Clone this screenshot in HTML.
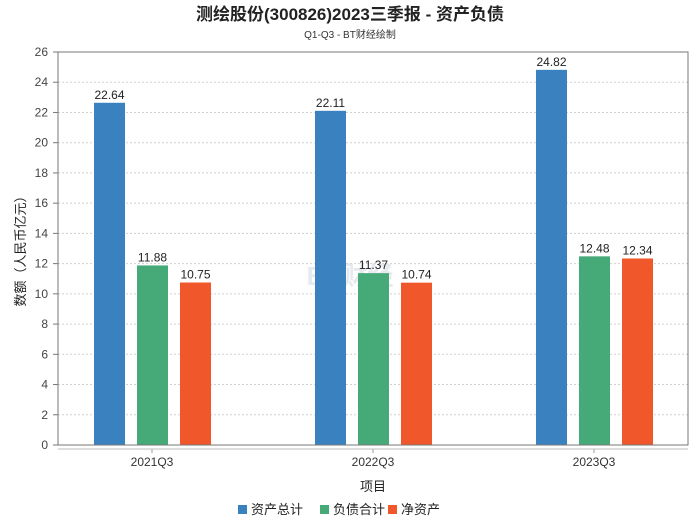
<!DOCTYPE html>
<html><head><meta charset="utf-8"><style>
body{margin:0;background:#fff;font-family:"Liberation Sans","Noto Sans CJK SC",sans-serif;}
svg text{font-family:"Liberation Sans","Noto Sans CJK SC",sans-serif;}
</style></head><body>
<svg id="chart" width="700" height="524" xmlns="http://www.w3.org/2000/svg">
<text x="350" y="20" text-anchor="middle" font-size="17" font-weight="bold" fill="#222">测绘股份(300826)2023三季报 - 资产负债</text>
<text x="350" y="38" text-anchor="middle" font-size="10" fill="#333">Q1-Q3 - BT财经绘制</text>
<text x="350" y="285" text-anchor="middle" font-size="26" font-weight="bold" fill="#e6e9ee">BT财经</text>
<g id="grid"></g><g id="bars"></g><g id="labels"></g>
<rect x="58" y="52" width="630" height="393" fill="none" stroke="#777"/>
<line x1="58" y1="449" x2="688" y2="449" stroke="#bbb"/>
<text transform="translate(25,248) rotate(-90)" text-anchor="middle" font-size="13" fill="#222">数额（人民币亿元）</text>
<text x="373" y="491" text-anchor="middle" font-size="13" fill="#222">项目</text>
<g id="legend"></g>
</svg>
<script>
const categories=["2021Q3","2022Q3","2023Q3"];
const seriesNames=["资产总计","负债合计","净资产"];
const assets=[22.64,22.11,24.82];
const liabilities=[11.88,11.37,12.48];
const equity=[10.75,10.74,12.34];
const yTicks=[0,2,4,6,8,10,12,14,16,18,20,22,24,26];
const colors=["#3a81c0","#46aa78","#f0572a"];
const NS="http://www.w3.org/2000/svg";
const y=v=>445-v*(393/26);
const xc=i=>152+i*221;
function mk(tag,attrs,parent){const e=document.createElementNS(NS,tag);for(const k in attrs)e.setAttribute(k,attrs[k]);parent.appendChild(e);return e;}
const grid=document.getElementById('grid'),bars=document.getElementById('bars'),labels=document.getElementById('labels'),legend=document.getElementById('legend');
yTicks.forEach(t=>{
  if(t>0&&t<26){const l=mk('line',{x1:58,x2:688,y1:y(t),y2:y(t),stroke:'#d0d0d0','stroke-dasharray':'2,2'},grid);
  
  }
  const tk=mk('line',{x1:53,x2:58,y1:y(t),y2:y(t),stroke:'#777'},grid);
  
  
  const tx=mk('text',{x:48,y:y(t)+4,'text-anchor':'end','font-size':12,fill:'#444'},grid);tx.textContent=t;
  
  
});
const series=[assets,liabilities,equity];
const offs=[-58,-15,28];
categories.forEach((c,i)=>{
  const tk=mk('line',{x1:xc(i),x2:xc(i),y1:449,y2:453,stroke:'#999'},grid);
  
  
  const t=mk('text',{x:xc(i),y:466,'text-anchor':'middle','font-size':12,fill:'#333'},labels);t.textContent=c;
  
  
  series.forEach((s,j)=>{
    const v=s[i];
    const r=mk('rect',{x:xc(i)+offs[j],y:y(v),width:31,height:445-y(v),fill:colors[j]},bars);
    
    
    const lt=mk('text',{x:xc(i)+offs[j]+15.5,y:y(v)-4,'text-anchor':'middle','font-size':12,fill:'#222'},labels);lt.textContent=v.toFixed(2);
    
    
  });
});
const lx=[238,320,388];
seriesNames.forEach((n,j)=>{
  const g=mk('g',{},legend);
  
  
  mk('rect',{x:lx[j],y:505,width:9,height:9,fill:colors[j]},g);
  const t=mk('text',{x:lx[j]+13,y:514,'font-size':13,fill:'#222'},g);t.textContent=n;
});
</script>
</body></html>
